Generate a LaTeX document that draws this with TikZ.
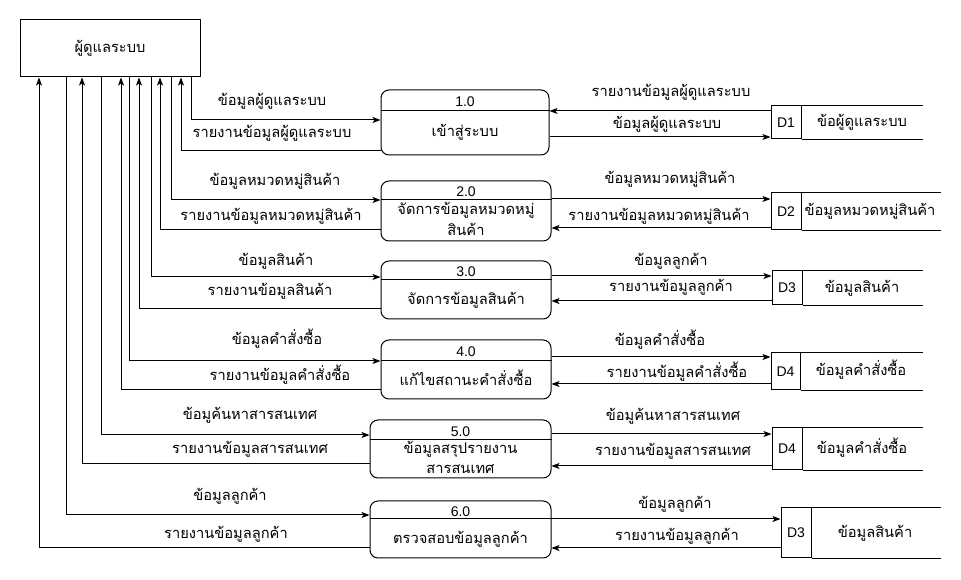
\documentclass[tikz,border=0pt]{standalone}
\usepackage{fontspec}
\setmainfont{Liberation Sans}
\newfontfamily\thai[Script=Thai]{Loma}
\usetikzlibrary{arrows.meta}
\begin{document}
\begin{tikzpicture}[x=0.75pt,y=-0.75pt,
  every node/.style={font=\fontsize{10.5pt}{12pt}\selectfont, inner sep=0pt},
  box/.style={draw, line width=0.75pt, rectangle},
  proc/.style={draw, line width=0.75pt, rounded corners=6pt},
  ln/.style={line width=0.75pt},
  arr/.style={line width=0.75pt, -{Stealth[length=6pt,width=4.5pt,inset=1.5pt]}},
  lbl/.style={anchor=base, font=\fontsize{11pt}{13pt}\selectfont\thai},
  num/.style={anchor=base}]
\useasboundingbox (0,0) rectangle (961,580);

% external entity
\node[box, minimum width=135pt, minimum height=42.75pt] (E) at (110,48.5) {};
\node[lbl] (Et) at (110,53) {ผู้ดูแลระบบ};

% processes
\node[proc, minimum width=126pt, minimum height=48.75pt] (P1) at (465,122.5) {};
\draw[ln] (P1.west |- 0,111) -- (P1.east |- 0,111);
\node[num] (P1n) at (465,107) {1.0};
\node[lbl] (P1t) at (465,137) {เข้าสู่ระบบ};

\node[proc, minimum width=127.5pt, minimum height=45pt] (P2) at (466,211) {};
\draw[ln] (P2.west |- 0,200) -- (P2.east |- 0,200);
\node[num] (P2n) at (466,197) {2.0};
\node[lbl] (P2t) at (466,215) {จัดการข้อมูลหมวดหมู่};
\node[lbl] (P2u) at (466,236) {สินค้า};

\node[proc, minimum width=127.5pt, minimum height=43.5pt] (P3) at (466,290) {};
\draw[ln] (P3.west |- 0,280) -- (P3.east |- 0,280);
\node[num] (P3n) at (466,277) {3.0};
\node[lbl] (P3t) at (466,305) {จัดการข้อมูลสินค้า};

\node[proc, minimum width=127.5pt, minimum height=44.25pt] (P4) at (466,369.5) {};
\draw[ln] (P4.west |- 0,361) -- (P4.east |- 0,361);
\node[num] (P4n) at (466,357) {4.0};
\node[lbl] (P4t) at (466,386) {แก้ไขสถานะคำสั่งซื้อ};

\node[proc, minimum width=135.75pt, minimum height=43.5pt] (P5) at (460.5,449) {};
\draw[ln] (P5.west |- 0,440) -- (P5.east |- 0,440);
\node[num] (P5n) at (460.5,437) {5.0};
\node[lbl] (P5t) at (460.5,454) {ข้อมูลสรุปรายงาน};
\node[lbl] (P5u) at (460.5,474) {สารสนเทศ};

\node[proc, minimum width=135.75pt, minimum height=42.75pt] (P6) at (460.5,529.5) {};
\draw[ln] (P6.west |- 0,519) -- (P6.east |- 0,519);
\node[num] (P6n) at (460.5,517) {6.0};
\node[lbl] (P6t) at (460.5,544) {ตรวจสอบข้อมูลลูกค้า};

% data stores
\node[box, minimum width=22.5pt, minimum height=24.75pt] (D1) at (786,122.5) {};
\draw[ln] (D1.north east) -- ++(121,0) (D1.south east) -- ++(121,0);
\node[num] (D1n) at (786,127.5) {D1};
\node[lbl] (D1t) at (862,127) {ข้อผู้ดูแลระบบ};

\node[box, minimum width=22.5pt, minimum height=27.75pt] (D2) at (786,211.5) {};
\draw[ln] (D2.north east) -- ++(139,0) (D2.south east) -- ++(139,0);
\node[num] (D2n) at (786,216.5) {D2};
\node[lbl] (D2t) at (870,216) {ข้อมูลหมวดหมู่สินค้า};

\node[box, minimum width=22.5pt, minimum height=25.5pt] (D3) at (787,288) {};
\draw[ln] (D3.north east) -- ++(120,0) (D3.south east) -- ++(120,0);
\node[num] (D3n) at (787,293) {D3};
\node[lbl] (D3t) at (862,292.5) {ข้อมูลสินค้า};

\node[box, minimum width=21.75pt, minimum height=27.75pt] (D4) at (785.5,371.5) {};
\draw[ln] (D4.north east) -- ++(122,0) (D4.south east) -- ++(122,0);
\node[num] (D4n) at (785.5,376.5) {D4};
\node[lbl] (D4t) at (861,376) {ข้อมูลคำสั่งซื้อ};

\node[box, minimum width=22.5pt, minimum height=31.5pt] (D5) at (787,449) {};
\draw[ln] (D5.north east) -- ++(120,0) (D5.south east) -- ++(120,0);
\node[num] (D5n) at (787,454) {D4};
\node[lbl] (D5t) at (862,453.5) {ข้อมูลคำสั่งซื้อ};

\node[box, minimum width=22.5pt, minimum height=37.5pt] (D6) at (796,533) {};
\draw[ln] (D6.north east) -- ++(129,0) (D6.south east) -- ++(129,0);
\node[num] (D6n) at (796,538) {D3};
\node[lbl] (D6t) at (875,537.5) {ข้อมูลสินค้า};

% left connectors
\draw[arr] (E.south -| 191,0) |- (P1.west |- 0,120);
\draw[arr] (P1.west |- 0,151) -| (E.south -| 181,0);
\draw[arr] (E.south -| 171,0) |- (P2.west |- 0,200);
\draw[arr] (P2.west |- 0,230) -| (E.south -| 160,0);
\draw[arr] (E.south -| 151,0) |- (P3.west |- 0,277);
\draw[arr] (P3.west |- 0,309) -| (E.south -| 139,0);
\draw[arr] (E.south -| 129,0) |- (P4.west |- 0,361);
\draw[arr] (P4.west |- 0,390) -| (E.south -| 121,0);
\draw[arr] (E.south -| 101,0) |- (P5.west |- 0,435);
\draw[arr] (P5.west |- 0,464) -| (E.south -| 82,0);
\draw[arr] (E.south -| 66,0) |- (P6.west |- 0,515);
\draw[arr] (P6.west |- 0,548) -| (E.south -| 39,0);

% left labels
\node[lbl] (L1a) at (272,106) {ข้อมูลผู้ดูแลระบบ};
\node[lbl] (L1b) at (272,138) {รายงานข้อมูลผู้ดูแลระบบ};
\node[lbl] (L2a) at (275,186) {ข้อมูลหมวดหมู่สินค้า};
\node[lbl] (L2b) at (271,221) {รายงานข้อมูลหมวดหมู่สินค้า};
\node[lbl] (L3a) at (276,266) {ข้อมูลสินค้า};
\node[lbl] (L3b) at (270,296) {รายงานข้อมูลสินค้า};
\node[lbl] (L4a) at (277,345) {ข้อมูลคำสั่งซื้อ};
\node[lbl] (L4b) at (280,381) {รายงานข้อมูลคำสั่งซื้อ};
\node[lbl] (L5a) at (250,420) {ข้อมูค้นหาสารสนเทศ};
\node[lbl] (L5b) at (250,454) {รายงานข้อมูลสารสนเทศ};
\node[lbl] (L6a) at (230,501) {ข้อมูลลูกค้า};
\node[lbl] (L6b) at (226,539) {รายงานข้อมูลลูกค้า};

% right connectors
\draw[arr] (D1.west |- 0,111) -- (P1.east |- 0,111);
\draw[arr] (P1.east |- 0,137) -- (D1.west |- 0,137);
\draw[arr] (P2.east |- 0,199) -- (D2.west |- 0,199);
\draw[arr] (D2.west |- 0,228) -- (P2.east |- 0,228);
\draw[arr] (P3.east |- 0,276) -- (D3.west |- 0,276);
\draw[arr] (D3.west |- 0,301) -- (P3.east |- 0,301);
\draw[arr] (P4.east |- 0,357) -- (D4.west |- 0,357);
\draw[arr] (D4.west |- 0,384) -- (P4.east |- 0,384);
\draw[arr] (P5.east |- 0,434) -- (D5.west |- 0,434);
\draw[arr] (D5.west |- 0,466) -- (P5.east |- 0,466);
\draw[arr] (P6.east |- 0,519) -- (D6.west |- 0,519);
\draw[arr] (D6.west |- 0,548) -- (P6.east |- 0,548);

% right labels
\node[lbl] (R1a) at (671,97) {รายงานข้อมูลผู้ดูแลระบบ};
\node[lbl] (R1b) at (667,129) {ข้อมูลผู้ดูแลระบบ};
\node[lbl] (R2a) at (670,184) {ข้อมูลหมวดหมู่สินค้า};
\node[lbl] (R2b) at (659,221) {รายงานข้อมูลหมวดหมู่สินค้า};
\node[lbl] (R3a) at (671,266) {ข้อมูลลูกค้า};
\node[lbl] (R3b) at (671,292) {รายงานข้อมูลลูกค้า};
\node[lbl] (R4a) at (660,346) {ข้อมูลคำสั่งซื้อ};
\node[lbl] (R4b) at (677,378) {รายงานข้อมูลคำสั่งซื้อ};
\node[lbl] (R5a) at (673,421) {ข้อมูค้นหาสารสนเทศ};
\node[lbl] (R5b) at (673,456) {รายงานข้อมูลสารสนเทศ};
\node[lbl] (R6a) at (675,509) {ข้อมูลลูกค้า};
\node[lbl] (R6b) at (677,541) {รายงานข้อมูลลูกค้า};
\end{tikzpicture}
\end{document}
